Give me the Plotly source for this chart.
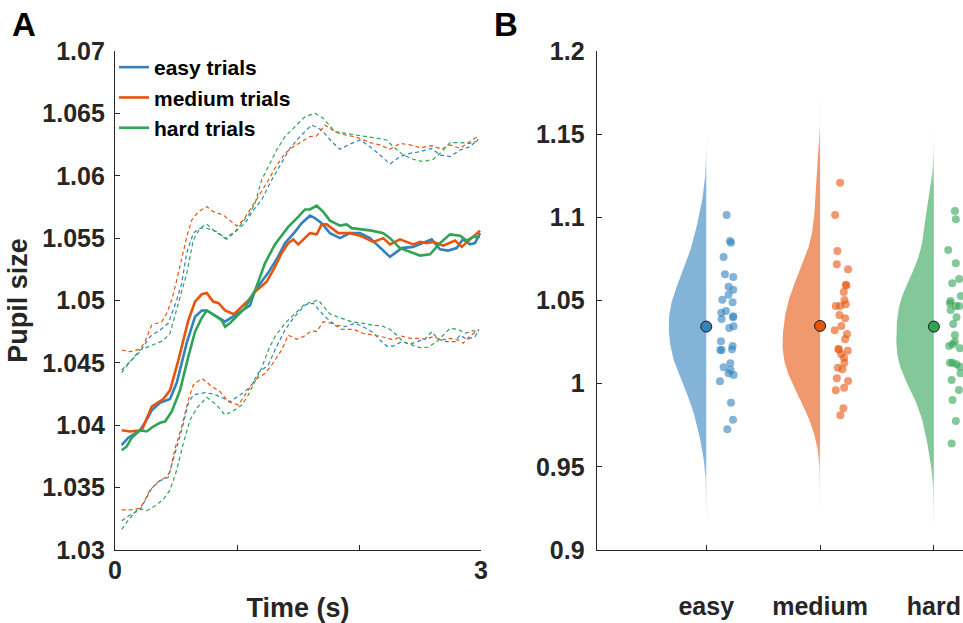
import numpy as np
import plotly.graph_objects as go

# ---------------- Panel A data (time in s, pupil size) ----------------
t_easy = [0.055,0.109,0.205,0.246,0.301,0.369,0.451,0.506,0.588,0.656,0.711,0.752,0.902,1.008,1.107,1.148,1.254,1.336,1.393,1.475,1.530,1.598,1.639,1.694,1.762,1.844,1.926,2.008,2.090,2.254,2.350,2.443,2.596,2.664,2.730,2.801,2.852,2.910,2.951,2.992]
easy_mean = [1.0384,1.0390,1.0396,1.0402,1.0412,1.0418,1.0421,1.0434,1.0466,1.0487,1.0492,1.0492,1.0483,1.0490,1.0496,1.0508,1.0522,1.0535,1.0546,1.0555,1.0562,1.0568,1.0566,1.0562,1.0554,1.0550,1.0554,1.0554,1.0550,1.0535,1.0542,1.0543,1.0549,1.0541,1.0540,1.0542,1.0549,1.0545,1.0546,1.0554]

t_medium = [0.055,0.123,0.219,0.301,0.396,0.451,0.519,0.601,0.656,0.711,0.752,0.806,0.847,0.902,0.975,1.093,1.148,1.243,1.311,1.366,1.420,1.461,1.502,1.598,1.653,1.694,1.735,1.830,1.926,2.008,2.117,2.199,2.254,2.336,2.445,2.500,2.555,2.609,2.691,2.787,2.842,2.910,2.992]
medium_mean = [1.0396,1.0395,1.0396,1.0415,1.0421,1.0428,1.0452,1.0484,1.0499,1.0505,1.0506,1.0499,1.0498,1.0492,1.0489,1.0500,1.0507,1.0515,1.0527,1.0538,1.0546,1.0549,1.0545,1.0554,1.0553,1.0561,1.0561,1.0554,1.0554,1.0552,1.0547,1.0550,1.0545,1.0549,1.0545,1.0547,1.0546,1.0547,1.0544,1.0548,1.0543,1.0549,1.0556]

t_hard = [0.055,0.096,0.137,0.205,0.260,0.314,0.369,0.410,0.465,0.533,0.601,0.656,0.711,0.752,0.834,0.875,0.902,0.943,0.984,1.066,1.148,1.230,1.311,1.420,1.502,1.557,1.598,1.653,1.707,1.762,1.844,1.899,1.940,2.035,2.104,2.199,2.254,2.336,2.418,2.500,2.582,2.664,2.746,2.828,2.883,2.937,2.992]
hard_mean = [1.0380,1.0383,1.0390,1.0396,1.0395,1.0399,1.0402,1.0403,1.0411,1.0428,1.0455,1.0475,1.0486,1.0492,1.0487,1.0484,1.0479,1.0482,1.0486,1.0494,1.0508,1.0530,1.0545,1.0559,1.0567,1.0573,1.0573,1.0576,1.0571,1.0564,1.0560,1.0561,1.0558,1.0557,1.0556,1.0554,1.0550,1.0542,1.0539,1.0536,1.0537,1.0546,1.0553,1.0552,1.0548,1.0551,1.0551]

t_easy_hi = [0.055,0.123,0.205,0.287,0.369,0.437,0.506,0.547,0.588,0.642,0.697,0.752,0.834,0.916,0.984,1.066,1.134,1.202,1.284,1.352,1.434,1.516,1.612,1.694,1.776,1.844,1.940,2.008,2.090,2.172,2.254,2.336,2.418,2.500,2.596,2.664,2.746,2.828,2.910,2.978]
easy_hi = [1.04443,1.04509,1.04590,1.04710,1.04764,1.04817,1.05004,1.05140,1.05381,1.05541,1.05579,1.05579,1.05552,1.05491,1.05552,1.05619,1.05725,1.05806,1.05966,1.06086,1.06220,1.06313,1.06407,1.06367,1.06273,1.06212,1.06260,1.06287,1.06233,1.06166,1.06094,1.06153,1.06180,1.06193,1.06220,1.06166,1.06153,1.06206,1.06233,1.06292]

t_medium_hi = [0.055,0.123,0.205,0.246,0.301,0.383,0.424,0.465,0.506,0.547,0.588,0.629,0.683,0.752,0.806,0.888,0.998,1.052,1.107,1.175,1.257,1.311,1.393,1.461,1.530,1.598,1.653,1.721,1.803,1.885,1.967,2.035,2.090,2.172,2.254,2.336,2.418,2.500,2.596,2.678,2.746,2.828,2.910,2.978]
medium_hi = [1.04603,1.04590,1.04609,1.04670,1.04804,1.04830,1.04897,1.05004,1.05164,1.05325,1.05511,1.05645,1.05712,1.05752,1.05712,1.05685,1.05597,1.05645,1.05725,1.05832,1.05966,1.06060,1.06180,1.06233,1.06273,1.06313,1.06319,1.06407,1.06353,1.06327,1.06313,1.06287,1.06265,1.06247,1.06212,1.06260,1.06247,1.06225,1.06241,1.06214,1.06247,1.06220,1.06273,1.06319]

t_hard_hi = [0.055,0.123,0.205,0.287,0.396,0.451,0.506,0.547,0.588,0.642,0.697,0.752,0.806,0.902,0.984,1.093,1.148,1.202,1.257,1.325,1.393,1.475,1.557,1.639,1.707,1.803,1.899,2.008,2.117,2.227,2.281,2.363,2.445,2.527,2.609,2.664,2.746,2.828,2.910,2.978]
hard_hi = [1.04421,1.04509,1.04603,1.04635,1.04678,1.04737,1.04924,1.05084,1.05218,1.05485,1.05579,1.05613,1.05565,1.05499,1.05552,1.05685,1.05779,1.05966,1.06073,1.06206,1.06313,1.06393,1.06473,1.06501,1.06461,1.06353,1.06340,1.06322,1.06305,1.06287,1.06233,1.06166,1.06132,1.06113,1.06132,1.06180,1.06265,1.06265,1.06260,1.06281]

t_easy_lo = [0.055,0.123,0.205,0.260,0.301,0.369,0.437,0.492,0.547,0.601,0.642,0.738,0.806,0.888,0.943,1.011,1.066,1.120,1.175,1.257,1.311,1.393,1.461,1.557,1.625,1.721,1.803,1.885,1.967,2.035,2.117,2.172,2.227,2.281,2.350,2.418,2.486,2.541,2.596,2.650,2.719,2.787,2.828,2.883,2.951,2.984]
easy_lo = [1.03235,1.03281,1.03321,1.03414,1.03495,1.03556,1.03583,1.03775,1.03962,1.04176,1.04243,1.04261,1.04251,1.04216,1.04189,1.04235,1.04269,1.04323,1.04421,1.04483,1.04603,1.04764,1.04857,1.04964,1.04978,1.04870,1.04804,1.04790,1.04817,1.04790,1.04742,1.04683,1.04635,1.04635,1.04670,1.04651,1.04670,1.04691,1.04750,1.04689,1.04670,1.04670,1.04723,1.04689,1.04710,1.04769]

t_medium_lo = [0.055,0.123,0.205,0.246,0.287,0.355,0.424,0.451,0.492,0.547,0.601,0.642,0.711,0.779,0.861,0.929,1.011,1.093,1.148,1.230,1.284,1.366,1.420,1.489,1.543,1.612,1.653,1.707,1.776,1.858,1.953,2.035,2.117,2.172,2.227,2.281,2.350,2.418,2.486,2.541,2.609,2.678,2.746,2.814,2.855,2.910,2.978]
medium_lo = [1.03321,1.03321,1.03334,1.03401,1.03481,1.03548,1.03588,1.03628,1.03815,1.03988,1.04202,1.04323,1.04376,1.04323,1.04269,1.04189,1.04162,1.04283,1.04363,1.04416,1.04483,1.04603,1.04723,1.04689,1.04710,1.04758,1.04750,1.04830,1.04817,1.04769,1.04769,1.04737,1.04723,1.04710,1.04702,1.04683,1.04715,1.04697,1.04697,1.04689,1.04710,1.04683,1.04697,1.04683,1.04657,1.04715,1.04764]

t_hard_lo = [0.055,0.109,0.191,0.260,0.328,0.396,0.451,0.506,0.560,0.615,0.670,0.752,0.834,0.902,0.970,1.039,1.093,1.148,1.202,1.257,1.311,1.393,1.489,1.557,1.666,1.762,1.858,1.940,2.035,2.117,2.186,2.254,2.309,2.363,2.418,2.500,2.568,2.637,2.691,2.746,2.814,2.869,2.937,2.984]
hard_lo = [1.03166,1.03240,1.03334,1.03315,1.03353,1.03406,1.03481,1.03641,1.03855,1.04042,1.04136,1.04224,1.04162,1.04082,1.04117,1.04162,1.04243,1.04349,1.04457,1.04603,1.04710,1.04817,1.04910,1.04972,1.05004,1.04892,1.04857,1.04830,1.04817,1.04801,1.04798,1.04769,1.04723,1.04670,1.04649,1.04622,1.04625,1.04670,1.04723,1.04777,1.04769,1.04737,1.04758,1.04750]

legend_names = ["easy trials", "medium trials", "hard trials"]
a_ytick_vals = [1.03, 1.035, 1.04, 1.045, 1.05, 1.055, 1.06, 1.065, 1.07]
a_ytick_text = ["1.03", "1.035", "1.04", "1.045", "1.05", "1.055", "1.06", "1.065", "1.07"]
a_xtick_vals = [0, 1, 2, 3]
a_xtick_text = ["0", "", "", "3"]

# ---------------- Panel B data (per-subject pupil size) ----------------
categories = ["easy", "medium", "hard"]
easy_vals = [1.1014,1.0858,1.0847,1.0762,1.0658,1.0641,1.0583,1.0565,1.0535,1.0505,1.0489,1.0437,1.0427,1.0405,1.0399,1.0389,1.0345,1.0335,1.0255,1.0226,1.0202,1.0202,1.0207,1.0122,1.0098,1.0082,1.0062,1.0052,1.0014,0.9886,0.9783,0.9726]
easy_jit = [0.179,0.208,0.217,0.152,0.164,0.237,0.196,0.237,0.196,0.141,0.231,0.173,0.132,0.237,0.235,0.135,0.240,0.202,0.129,0.231,0.123,0.135,0.226,0.211,0.152,0.214,0.196,0.240,0.120,0.217,0.235,0.185]
medium_vals = [1.1208,1.1014,1.0798,1.0718,1.0688,1.0595,1.0590,1.0551,1.0503,1.0467,1.0467,1.0477,1.0413,1.0393,1.0347,1.0321,1.0299,1.0267,1.0208,1.0205,1.0198,1.0177,1.0156,1.0126,1.0096,1.0086,1.0032,1.0016,0.9976,0.9960,0.9852,0.9810]
medium_jit = [0.176,0.132,0.152,0.147,0.246,0.226,0.231,0.208,0.214,0.138,0.176,0.226,0.170,0.220,0.187,0.129,0.237,0.220,0.161,0.165,0.243,0.185,0.211,0.214,0.156,0.196,0.147,0.246,0.211,0.138,0.205,0.178]
hard_vals = [1.1038,1.0988,1.0804,1.0724,1.0629,1.0603,1.0527,1.0497,1.0483,1.0467,1.0443,1.0467,1.0399,1.0359,1.0293,1.0252,1.0226,1.0237,1.0213,1.0126,1.0126,1.0116,1.0102,1.0062,1.0022,0.9962,0.9902,0.9776,0.9641]
hard_jit = [0.185,0.193,0.126,0.193,0.222,0.161,0.237,0.147,0.141,0.193,0.147,0.222,0.199,0.170,0.185,0.185,0.134,0.164,0.228,0.141,0.164,0.199,0.228,0.235,0.156,0.220,0.164,0.193,0.156]
group_means = [1.0343, 1.0347, 1.0343]
b_ytick_vals = [0.9, 0.95, 1.0, 1.05, 1.1, 1.15, 1.2]
b_ytick_text = ["0.9", "0.95", "1", "1.05", "1.1", "1.15", "1.2"]

# ---------------- styling ----------------
COLORS = ["#3182BD", "#E6550D", "#31A354"]
RGB = [(49, 130, 189), (230, 85, 13), (49, 163, 84)]
FONT = "Liberation Sans, Arial, Helvetica, sans-serif"
INK = "#262626"

fig = go.Figure()

# Panel A: dashed bounds first, then means
bounds = [
    (t_easy_hi, easy_hi, 0), (t_medium_hi, medium_hi, 1), (t_hard_hi, hard_hi, 2),
    (t_easy_lo, easy_lo, 0), (t_medium_lo, medium_lo, 1), (t_hard_lo, hard_lo, 2),
]
for tt, yy, ci in bounds:
    fig.add_trace(go.Scatter(x=tt, y=yy, mode="lines", showlegend=False,
                             line=dict(color=COLORS[ci], width=1.2, dash="4px,3px"),
                             xaxis="x", yaxis="y", hoverinfo="skip"))
means = [(t_easy, easy_mean), (t_medium, medium_mean), (t_hard, hard_mean)]
for i, (tt, yy) in enumerate(means):
    fig.add_trace(go.Scatter(x=tt, y=yy, mode="lines", name=legend_names[i],
                             line=dict(color=COLORS[i], width=2.6),
                             xaxis="x", yaxis="y"))

# Panel B: half violins (KDE of the data) with faded tails, jittered points, means
groups = [(easy_vals, easy_jit), (medium_vals, medium_jit), (hard_vals, hard_jit)]
for i, (vals, jit) in enumerate(groups):
    v = np.asarray(vals)
    n = len(v)
    sig = np.median(np.abs(v - np.median(v))) / 0.6745
    bw = sig * (4.0 / (3.0 * n)) ** 0.2
    grid = np.linspace(v.min() - 3.8 * bw, v.max() + 3.8 * bw, 260)
    dens = np.exp(-0.5 * ((grid[:, None] - v[None, :]) / bw) ** 2).sum(axis=1)
    half = 0.33 * dens / dens.max()
    c = i + 1
    r, g, b = RGB[i]
    xs = np.concatenate([c - half, [c, c]])
    ys = np.concatenate([grid, [grid[-1], grid[0]]])
    span = grid[-1] - grid[0]
    f = 0.045 / span
    fig.add_trace(go.Scatter(
        x=xs, y=ys, mode="lines", fill="toself", line=dict(width=0),
        fillcolor=f"rgba({r},{g},{b},0.6)",
        fillgradient=dict(type="vertical", start=grid[0], stop=grid[-1],
                          colorscale=[[0, f"rgba({r},{g},{b},0)"],
                                      [f, f"rgba({r},{g},{b},0.6)"],
                                      [1 - f, f"rgba({r},{g},{b},0.6)"],
                                      [1, f"rgba({r},{g},{b},0)"]]),
        showlegend=False, xaxis="x2", yaxis="y2", hoverinfo="skip"))
    fig.add_trace(go.Scatter(
        x=[c + j for j in jit], y=vals, mode="markers", showlegend=False,
        marker=dict(size=8, color=f"rgba({r},{g},{b},0.6)", line=dict(width=0)),
        xaxis="x2", yaxis="y2"))
for i, m in enumerate(group_means):
    fig.add_trace(go.Scatter(
        x=[i + 1], y=[m], mode="markers", showlegend=False,
        marker=dict(size=11, color=COLORS[i], line=dict(color="#1a1a1a", width=1)),
        xaxis="x2", yaxis="y2"))

W, H = 963, 623
ydom = [(H - 550) / H, (H - 51) / H]
tickfont = dict(family=FONT, size=25, color=INK, weight="bold")
axis_common = dict(showline=True, linecolor=INK, linewidth=1.3, ticks="inside",
                   ticklen=5, tickwidth=1.3, tickcolor=INK, showgrid=False,
                   zeroline=False, tickfont=tickfont, mirror=False, automargin=False)

fig.update_layout(
    width=W, height=H, margin=dict(l=0, r=0, t=0, b=0, autoexpand=False),
    paper_bgcolor="white", plot_bgcolor="white",
    font=dict(family=FONT, color=INK),
    xaxis=dict(domain=[115 / W, 481 / W], range=[0, 3], anchor="y",
               tickvals=a_xtick_vals, ticktext=a_xtick_text, ticklabelstandoff=-2,
               title=dict(text="Time (s)", standoff=17,
                          font=dict(family=FONT, size=27, color=INK, weight="bold")),
               **axis_common),
    yaxis=dict(domain=ydom, range=[1.03, 1.07], anchor="x",
               tickvals=a_ytick_vals, ticktext=a_ytick_text, ticklabelstandoff=4,
               title=dict(text="Pupil size", standoff=6,
                          font=dict(family=FONT, size=27, color=INK, weight="bold")),
               **axis_common),
    xaxis2=dict(domain=[596.7 / W, 1.0], range=[0.037, 3.256], anchor="y2",
                tickvals=[1, 2, 3], ticktext=categories, ticklabelstandoff=34,
                **axis_common),
    yaxis2=dict(domain=ydom, range=[0.9, 1.2], anchor="x2",
                tickvals=b_ytick_vals, ticktext=b_ytick_text, ticklabelstandoff=6,
                **axis_common),
    legend=dict(x=114 / W, y=1 - 47 / H, xanchor="left", yanchor="top",
                bgcolor="rgba(0,0,0,0)", borderwidth=0,
                font=dict(family=FONT, size=21, color="black", weight="bold"),
                tracegroupgap=0, itemwidth=30),
    annotations=[
        dict(text="A", x=10 / W, y=1 - 24 / H, xref="paper", yref="paper",
             xanchor="left", yanchor="middle", showarrow=False,
             font=dict(family=FONT, size=33, color="black", weight="bold")),
        dict(text="B", x=492 / W, y=1 - 24 / H, xref="paper", yref="paper",
             xanchor="left", yanchor="middle", showarrow=False,
             font=dict(family=FONT, size=33, color="black", weight="bold")),
    ],
)

fig.write_html("out.html")
